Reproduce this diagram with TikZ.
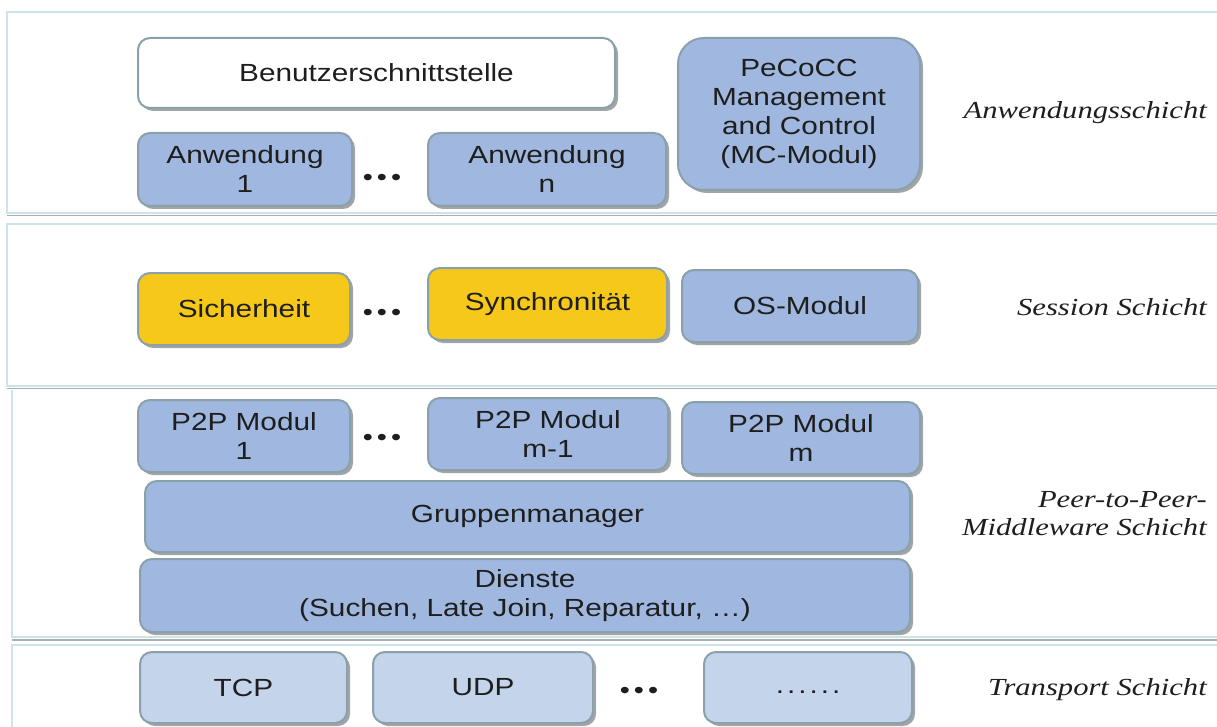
\documentclass[tikz,border=0pt]{standalone}
\usepackage{fontspec}
\setmainfont{Liberation Sans}[FakeStretch=1.2]
\newfontfamily\layerfont{Liberation Serif}[FakeStretch=1.25]
\usetikzlibrary{shadows}

\definecolor{modblue}{HTML}{A0B8DF}
\definecolor{modline}{HTML}{8AA0AA}
\definecolor{modshadow}{HTML}{A2A4A6}
\definecolor{modyellow}{HTML}{F5C81A}
\definecolor{modlight}{HTML}{C4D4EA}
\definecolor{panelline}{HTML}{CCE4E8}
\definecolor{panelshade}{HTML}{A9B0B2}
\definecolor{txt}{HTML}{1E1E1E}

\tikzset{
  module/.style={draw=modline, line width=2pt, rounded corners=12pt,
    fill=modblue, text=txt, align=center, inner sep=0pt,
    font=\fontsize{24.8}{29}\selectfont,
    drop shadow={shadow xshift=3pt, shadow yshift=-3pt, fill=modshadow, opacity=1}},
  whitemod/.style={module, fill=white},
  yellowmod/.style={module, fill=modyellow},
  lightmod/.style={module, fill=modlight},
  ellipsis/.style={anchor=base, text=txt, inner sep=0pt,
    font=\fontsize{24}{28}\selectfont\addfontfeature{LetterSpace=17}},
  layerlabel/.style={anchor=east, align=right, text=txt, inner sep=0pt,
    font=\layerfont\itshape\fontsize{24.5}{28}\selectfont},
  panel/.style={draw=panelline, line width=1.5pt},
  panelbottom/.style={draw=panelshade, line width=1.5pt},
}

\begin{document}
\begin{tikzpicture}[x=1pt,y=-1pt]
\useasboundingbox (0,0) rectangle (1217,727);

% layer panels
\draw[panel] (7,12) rectangle (1240,213);
\draw[panelbottom] (7,215.5) -- (1240,215.5);
\draw[panel] (7,224) rectangle (1240,386);
\draw[panelbottom] (7,388.5) -- (1240,388.5);
\draw[panel] (12,389.5) -- (12,637) -- (1240,637);
\draw[panelbottom] (12,640) -- (1240,640);
\draw[panel] (12,760) -- (12,645) -- (1240,645);

% application layer
\node[whitemod, minimum width=477pt, minimum height=70pt] (ui) at (376.5,73) {Benutzerschnittstelle};
\node[module, minimum width=214pt, minimum height=73pt] (app1) at (245,169.5) {Anwendung\\1};
\node[ellipsis] (dotsA) at (382,185.5) {•••};
\node[module, minimum width=238pt, minimum height=73pt] (appn) at (547,169.5) {Anwendung\\n};
\node[module, rounded corners=26pt, minimum width=242pt, minimum height=152pt] (mc) at (799,114)
  {PeCoCC\\Management\\and Control\\(MC-Modul)};
\node[layerlabel] (l1) at (1207,113) {Anwendungsschicht};

% session layer
\node[yellowmod, minimum width=212pt, minimum height=72pt] (sec) at (244,309) {Sicherheit};
\node[ellipsis] (dotsB) at (382,320.5) {•••};
\node[yellowmod, minimum width=239pt, minimum height=72pt] (sync) at (547.5,304) {Synchronität};
\node[module, minimum width=236pt, minimum height=72pt] (os) at (800,306) {OS-Modul};
\node[layerlabel] (l2) at (1207,307) {Session Schicht};

% peer-to-peer middleware layer
\node[module, minimum width=212pt, minimum height=72pt] (p1) at (244,436) {P2P Modul\\1};
\node[ellipsis] (dotsC) at (382,445.5) {•••};
\node[module, minimum width=240pt, minimum height=72pt] (pm1) at (548,434) {P2P Modul\\m-1};
\node[module, minimum width=238pt, minimum height=72pt] (pm) at (801,438) {P2P Modul\\m};
\node[module, minimum width=765pt, minimum height=71pt] (grp) at (527.5,516.5) {Gruppenmanager};
\node[module, minimum width=770pt, minimum height=73pt] (svc) at (525,595.5)
  {Dienste\\(Suchen, Late Join, Reparatur, \dots)};
\node[layerlabel] (l3) at (1207,514) {Peer-to-Peer-\\Middleware Schicht};

% transport layer
\node[lightmod, minimum width=207pt, minimum height=71pt] (tcp) at (243.5,687.5) {TCP};
\node[lightmod, minimum width=220pt, minimum height=71pt] (udp) at (483,687.5) {UDP};
\node[ellipsis] (dotsD) at (639,698.5) {•••};
\node[lightmod, minimum width=208pt, minimum height=71pt] (more) at (808,687.5)
  {\strut\addfontfeature{LetterSpace=12}......};
\node[layerlabel] (l4) at (1207,690) {Transport Schicht};
\end{tikzpicture}
\end{document}
